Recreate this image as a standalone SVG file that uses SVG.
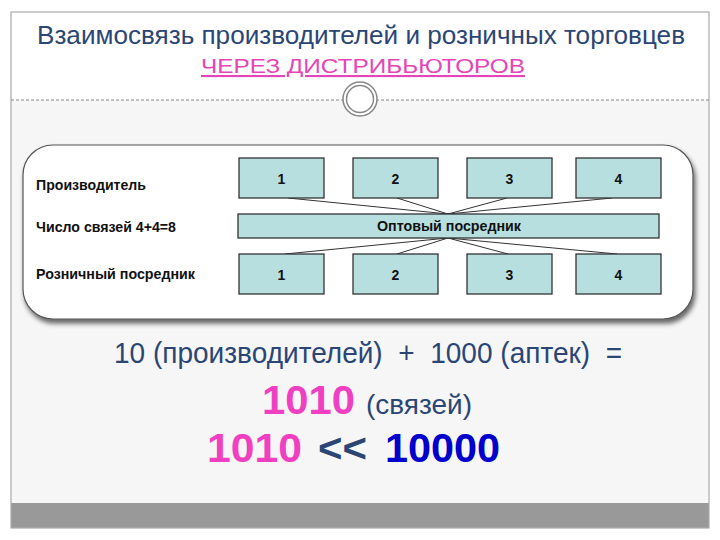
<svg xmlns="http://www.w3.org/2000/svg" width="720" height="540" viewBox="0 0 720 540">
<defs>
<style>
.lbl{font-family:"Liberation Sans",Arial,sans-serif;font-weight:bold;font-size:14px;fill:#111}
.num{font-family:"Liberation Sans",Arial,sans-serif;font-weight:bold;font-size:14px;fill:#111;text-anchor:middle}
.box{fill:#b8dfe0;stroke:#333;stroke-width:1.3}
.conn line{stroke:#333;stroke-width:1}
.t{font-family:"Liberation Sans",Arial,sans-serif}
</style>
<filter id="sh" x="-5%" y="-5%" width="115%" height="125%">
<feGaussianBlur in="SourceAlpha" stdDeviation="2.5"/>
<feOffset dx="2" dy="4"/>
<feComponentTransfer><feFuncA type="linear" slope="0.6"/></feComponentTransfer>
<feMerge><feMergeNode/><feMergeNode in="SourceGraphic"/></feMerge>
</filter>
</defs>
<rect x="0" y="0" width="720" height="540" fill="#fff"/>
<rect x="11" y="100" width="698" height="403" fill="#f6f6f6"/>
<rect x="11" y="503" width="698" height="25" fill="#999"/>
<rect x="11" y="12" width="698" height="516" fill="none" stroke="#aaa" stroke-width="1.2"/>
<line x1="11" y1="100" x2="709" y2="100" stroke="#888" stroke-width="1" stroke-dasharray="3,2"/>
<g id="ring">
<circle cx="360" cy="99" r="17" fill="#fff" stroke="#888" stroke-width="1.5"/>
<circle cx="360" cy="99" r="13.5" fill="#fff" stroke="#888" stroke-width="1.5"/>
</g>
<g id="title">
<text class="t" x="361" y="44" font-size="25" fill="#2b4675" text-anchor="middle" textLength="648" lengthAdjust="spacingAndGlyphs">Взаимосвязь производителей и розничных торговцев</text>
<text class="t" x="363" y="73" font-size="21" fill="#e545b8" text-anchor="middle" textLength="324" lengthAdjust="spacingAndGlyphs" text-decoration="underline">ЧЕРЕЗ ДИСТРИБЬЮТОРОВ</text>
</g>
<g id="panel">
<rect x="23" y="145" width="670" height="174" rx="30" ry="30" fill="#fff" stroke="#555" stroke-width="1.2" filter="url(#sh)"/>
</g>
<g id="labels">
<text class="lbl" x="36" y="190" textLength="110" lengthAdjust="spacingAndGlyphs">Производитель</text>
<text class="lbl" x="36" y="232" textLength="140" lengthAdjust="spacingAndGlyphs">Число связей 4+4=8</text>
<text class="lbl" x="36" y="279" textLength="159" lengthAdjust="spacingAndGlyphs">Розничный посредник</text>
</g>
<g class="conn" id="connectors">
<line x1="288" y1="198" x2="448" y2="214"/>
<line x1="397" y1="198" x2="448" y2="214"/>
<line x1="507" y1="198" x2="448" y2="214"/>
<line x1="612" y1="198" x2="448" y2="214"/>
<line x1="448" y1="238" x2="285" y2="254"/>
<line x1="448" y1="238" x2="397" y2="254"/>
<line x1="448" y1="238" x2="508" y2="254"/>
<line x1="448" y1="238" x2="617" y2="254"/>
</g>
<g id="p1"><rect class="box" x="239" y="158" width="85" height="40"/><text class="num" x="281.5" y="184">1</text></g>
<g id="p2"><rect class="box" x="353" y="158" width="85" height="40"/><text class="num" x="395.5" y="184">2</text></g>
<g id="p3"><rect class="box" x="467" y="158" width="85" height="40"/><text class="num" x="509.5" y="184">3</text></g>
<g id="p4"><rect class="box" x="576" y="158" width="85" height="40"/><text class="num" x="618.5" y="184">4</text></g>
<g id="wholesale"><rect class="box" x="238" y="214" width="421" height="24"/><text class="num" x="449" y="231" textLength="144" lengthAdjust="spacingAndGlyphs">Оптовый посредник</text></g>
<g id="r1"><rect class="box" x="239" y="254" width="85" height="40"/><text class="num" x="281.5" y="280">1</text></g>
<g id="r2"><rect class="box" x="353" y="254" width="85" height="40"/><text class="num" x="395.5" y="280">2</text></g>
<g id="r3"><rect class="box" x="467" y="254" width="85" height="40"/><text class="num" x="509.5" y="280">3</text></g>
<g id="r4"><rect class="box" x="576" y="254" width="85" height="40"/><text class="num" x="618.5" y="280">4</text></g>
<g id="formula">
<text class="t" x="114" y="363" font-size="29" fill="#2b4675" textLength="508" lengthAdjust="spacingAndGlyphs" xml:space="preserve">10 (производителей)  +  1000 (аптек)  =</text>
<text class="t" x="262" y="414" font-size="40" font-weight="bold" fill="#f03fc0" textLength="93" lengthAdjust="spacingAndGlyphs">1010</text>
<text class="t" x="366" y="414" font-size="28" fill="#2b4675" textLength="106" lengthAdjust="spacingAndGlyphs">(связей)</text>
<text class="t" x="207" y="462" font-size="40" font-weight="bold" fill="#f03fc0" textLength="95" lengthAdjust="spacingAndGlyphs">1010</text>
<text class="t" x="318" y="462" font-size="40" font-weight="bold" fill="#2b4675" textLength="49" lengthAdjust="spacingAndGlyphs">&lt;&lt;</text>
<text class="t" x="385" y="462" font-size="40" font-weight="bold" fill="#0000cc" textLength="115" lengthAdjust="spacingAndGlyphs">10000</text>
</g>
</svg>
